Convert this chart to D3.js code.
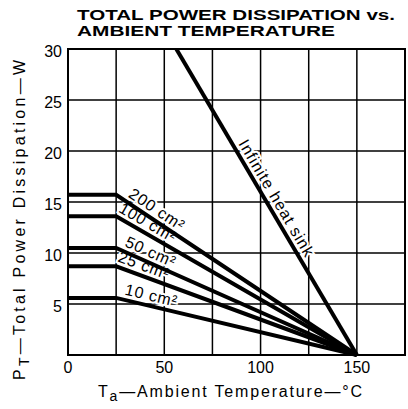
<!DOCTYPE html>
<html>
<head>
<meta charset="utf-8">
<script src="https://cdn.jsdelivr.net/npm/d3@7"></script>
<style>
  body { margin: 0; background: #fff; }
  text { font-family: "Liberation Sans", Arial, sans-serif; fill: #000; }
</style>
</head>
<body>
<div id="chart"></div>
<script>
// heat sink areas (cm2) and their flat max power (W) up to the knee temperature
const areas = ["200", "100", "50", "25", "10"];
const flatPower = [15.7, 13.6, 10.5, 8.7, 5.6];
const labelTemps = [29.5, 24.5, 28, 24.5, 28.5];
const kneeTemp = 25;
const maxTemp = 150;

// infinite heat sink line
const infTemps = [56.25, 150];
const infPower = [30, 0];
const infLabelTemp = 86;

const xTicks = [0, 50, 100, 150];
const yTicks = [5, 10, 15, 20, 25, 30];
const xGrid = [25, 50, 75, 100, 125, 150];
const yGrid = [5, 10, 15, 20, 25];

var W = 408, H = 409;
var svg = d3.select("#chart").append("svg")
    .attr("width", W)
    .attr("height", H);

var x = d3.scaleLinear().domain([0, 175]).range([68, 405]);
var y = d3.scaleLinear().domain([0, 30]).range([355, 49]);

// title
svg.append("text")
    .attr("x", 77).attr("y", 20)
    .attr("font-size", 14).attr("font-weight", "bold")
    .attr("textLength", 318).attr("lengthAdjust", "spacingAndGlyphs")
    .text("TOTAL POWER DISSIPATION vs.");
svg.append("text")
    .attr("x", 77).attr("y", 36)
    .attr("font-size", 14).attr("font-weight", "bold")
    .attr("textLength", 258).attr("lengthAdjust", "spacingAndGlyphs")
    .text("AMBIENT TEMPERATURE");

// grid
svg.append("g").selectAll("line")
    .data(xGrid).enter().append("line")
    .attr("x1", d => x(d)).attr("x2", d => x(d))
    .attr("y1", y(0)).attr("y2", y(30))
    .attr("stroke", "#000").attr("stroke-width", 1.5);
svg.append("g").selectAll("line")
    .data(yGrid).enter().append("line")
    .attr("x1", x(0)).attr("x2", x(175))
    .attr("y1", d => y(d)).attr("y2", d => y(d))
    .attr("stroke", "#000").attr("stroke-width", 1.5);

// frame
svg.append("rect")
    .attr("x", x(0)).attr("y", y(30))
    .attr("width", x(175) - x(0)).attr("height", y(0) - y(30))
    .attr("fill", "none").attr("stroke", "#000").attr("stroke-width", 2);

// tick labels
svg.append("g").selectAll("text")
    .data(xTicks).enter().append("text")
    .attr("x", d => x(d)).attr("y", 373)
    .attr("text-anchor", "middle").attr("font-size", 16)
    .text(d => d);
svg.append("g").selectAll("text")
    .data(yTicks).enter().append("text")
    .attr("x", 62).attr("y", d => y(d) + 8)
    .attr("text-anchor", "end").attr("font-size", 16)
    .text(d => d);

// label geometry for the derating curves
var labels = areas.map(function(a, i) {
    var p = flatPower[i];
    var ang = Math.atan2(y(0) - y(p), x(maxTemp) - x(kneeTemp)) * 180 / Math.PI;
    var t = labelTemps[i];
    var pw = p * (maxTemp - t) / (maxTemp - kneeTemp);
    return { text: a + " cm²", x: x(t), y: y(pw), ang: ang };
});
var infAng = Math.atan2(y(infPower[1]) - y(infPower[0]), x(infTemps[1]) - x(infTemps[0])) * 180 / Math.PI;
var infP = infPower[0] * (infTemps[1] - infLabelTemp) / (infTemps[1] - infTemps[0]);

function drawLabels(g, halo) {
    g.selectAll("text.curve")
        .data(labels).enter().append("text")
        .attr("class", "curve")
        .attr("font-size", 16)
        .attr("transform", d => "translate(" + d.x + "," + d.y + ") rotate(" + d.ang + ")")
        .attr("dy", -5)
        .attr("letter-spacing", 0.8)
        .attr("stroke", halo ? "#fff" : "none")
        .attr("stroke-width", halo ? 4 : 0)
        .style("fill", halo ? "#fff" : "#000")
        .text(d => d.text);
    g.append("text")
        .attr("font-size", 16)
        .attr("transform", "translate(" + x(infLabelTemp) + "," + y(infP) + ") rotate(" + infAng + ")")
        .attr("dy", -5)
        .attr("letter-spacing", 1)
        .attr("stroke", halo ? "#fff" : "none")
        .attr("stroke-width", halo ? 4 : 0)
        .style("fill", halo ? "#fff" : "#000")
        .text("Infinite heat sink");
}

drawLabels(svg.append("g"), true);

// derating curves
var line = d3.line().x(d => x(d[0])).y(d => y(d[1]));
svg.append("g").selectAll("path")
    .data(flatPower).enter().append("path")
    .attr("d", p => line([[0, p], [kneeTemp, p], [maxTemp, 0]]))
    .attr("fill", "none").attr("stroke", "#000")
    .attr("stroke-width", 4).attr("stroke-linejoin", "miter");

svg.append("path")
    .attr("d", line(infTemps.map((t, i) => [t, infPower[i]])))
    .attr("fill", "none").attr("stroke", "#000").attr("stroke-width", 4);

drawLabels(svg.append("g"), false);

// axis titles
var xt = svg.append("text")
    .attr("x", 98).attr("y", 397)
    .attr("font-size", 16)
    .attr("textLength", 264).attr("lengthAdjust", "spacing");
xt.append("tspan").text("T");
xt.append("tspan").attr("dy", 4).attr("font-size", 14).text("a");
xt.append("tspan").attr("dy", -4).text("—Ambient Temperature—°C");

var yt = svg.append("text")
    .attr("transform", "translate(25,380) rotate(-90)")
    .attr("font-size", 16)
    .attr("textLength", 320).attr("lengthAdjust", "spacing");
yt.append("tspan").text("P");
yt.append("tspan").attr("dy", 4).attr("font-size", 14).text("T");
yt.append("tspan").attr("dy", -4).text("—Total Power Dissipation—W");
</script>
</body>
</html>
